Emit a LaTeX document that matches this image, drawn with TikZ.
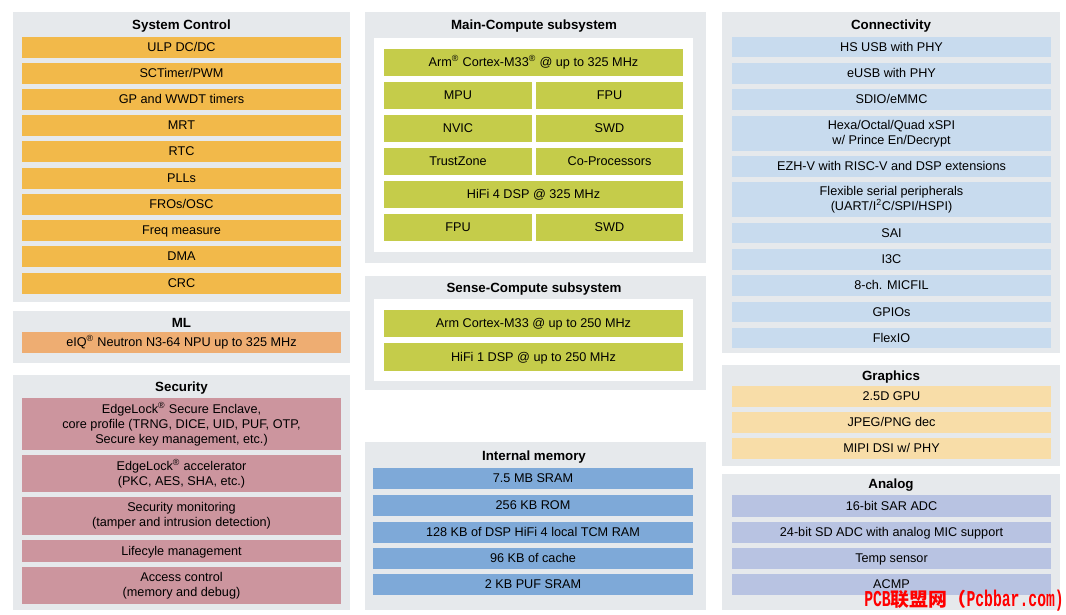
\documentclass[tikz,border=0pt]{standalone}
\usepackage{fontspec}
\setmainfont{Liberation Sans}
\newfontfamily\cjk{Noto Sans CJK SC}
\newfontfamily\wmmono{Liberation Mono}
\definecolor{panel}{HTML}{E6E9EC}
\definecolor{sysc}{HTML}{F2B94A}
\definecolor{mlc}{HTML}{EEAD72}
\definecolor{secc}{HTML}{CC959E}
\definecolor{grn}{HTML}{C5CC4A}
\definecolor{memc}{HTML}{7EA9D8}
\definecolor{conc}{HTML}{C8DBEE}
\definecolor{grc}{HTML}{F8DDA8}
\definecolor{anc}{HTML}{B8C3E2}
\newcommand\bstrut{\rule[-2.2pt]{0pt}{10.4pt}}
\newcommand\tstrut{\rule[-2.4pt]{0pt}{11.6pt}}
\newcommand\wmlat[1]{\scalebox{0.65}[1]{\wmmono\bfseries\fontsize{17}{17}\selectfont #1}}
\newcommand\mkbox[7]{\node[#2, minimum width={(#5-#3)*0.75pt}, minimum height={(#6-#4)*0.75pt}] (#1) at ({(#3+#5)/2},{(#4+#6)/2}) {#7};}
\tikzset{
  base/.style={inner sep=0pt, outer sep=0pt, draw=none, align=center, font=\fontsize{9.5}{11.25}\selectfont, text=black,
    execute at begin node=\bstrut, execute at end node=\bstrut},
  pan/.style={base, fill=panel},
  inner/.style={base, fill=white},
  ttl/.style={inner sep=0pt, font=\fontsize{10}{12}\selectfont\bfseries, text=black,
    execute at begin node=\tstrut},
  sysbox/.style={base, fill=sysc},
  mlbox/.style={base, fill=mlc},
  secbox/.style={base, fill=secc},
  cpubox/.style={base, fill=grn},
  membox/.style={base, fill=memc},
  conbox/.style={base, fill=conc},
  grbox/.style={base, fill=grc},
  anbox/.style={base, fill=anc},
  wm/.style={inner sep=0pt, text=red, font=\cjk\bfseries\fontsize{14.2}{15}\selectfont}
}
\begin{document}
\begin{tikzpicture}[x=0.75pt,y=-0.75pt]
\useasboundingbox[fill=white] (0,0) rectangle (1066,614);
% panels
\mkbox{sysP}{pan}{13}{12}{350}{302}{}
\mkbox{mlP}{pan}{13}{311}{350}{363}{}
\mkbox{secP}{pan}{13}{375}{350}{610}{}
\mkbox{mainP}{pan}{365}{12}{706}{263}{}
\mkbox{mainI}{inner}{374}{38}{693}{252}{}
\mkbox{senseP}{pan}{365}{276}{706}{390}{}
\mkbox{senseI}{inner}{374}{299}{693}{381}{}
\mkbox{memP}{pan}{365}{442}{706}{610}{}
\mkbox{conP}{pan}{722}{12}{1060}{353}{}
\mkbox{grP}{pan}{722}{365}{1060}{466}{}
\mkbox{anP}{pan}{722}{474}{1060}{610}{}
% titles
\node[ttl] (sysT) at (181.5,25.3) {System Control};
\node[ttl] (mlT) at (181.5,323) {ML};
\node[ttl] (secT) at (181.5,387) {Security};
\node[ttl] (mainT) at (534,25.3) {Main-Compute subsystem};
\node[ttl] (senseT) at (534,287.5) {Sense-Compute subsystem};
\node[ttl] (memT) at (534,455.5) {Internal memory};
\node[ttl] (conT) at (891,25.3) {Connectivity};
\node[ttl] (grT) at (891,376) {Graphics};
\node[ttl] (anT) at (891,484) {Analog};
% system control
\mkbox{s1}{sysbox}{22}{37}{341}{58}{ULP DC/DC}
\mkbox{s2}{sysbox}{22}{63}{341}{84}{SCTimer/PWM}
\mkbox{s3}{sysbox}{22}{89}{341}{110}{GP and WWDT timers}
\mkbox{s4}{sysbox}{22}{115}{341}{136}{MRT}
\mkbox{s5}{sysbox}{22}{141}{341}{162}{RTC}
\mkbox{s6}{sysbox}{22}{168}{341}{189}{PLLs}
\mkbox{s7}{sysbox}{22}{194}{341}{215}{FROs/OSC}
\mkbox{s8}{sysbox}{22}{220}{341}{241}{Freq measure}
\mkbox{s9}{sysbox}{22}{246}{341}{267}{DMA}
\mkbox{s10}{sysbox}{22}{273}{341}{294}{CRC}
% ML
\mkbox{ml1}{mlbox}{22}{332}{341}{353}{eIQ\textsuperscript{®} Neutron N3-64 NPU up to 325 MHz}
% security
\mkbox{se1}{secbox}{22}{398}{341}{450}{EdgeLock\textsuperscript{®} Secure Enclave,\\core profile (TRNG, DICE, UID, PUF, OTP,\\Secure key management, etc.)}
\mkbox{se2}{secbox}{22}{455}{341}{492}{EdgeLock\textsuperscript{®} accelerator\\(PKC, AES, SHA, etc.)}
\mkbox{se3}{secbox}{22}{497}{341}{535}{Security monitoring\\(tamper and intrusion detection)}
\mkbox{se4}{secbox}{22}{540}{341}{562}{Lifecyle management}
\mkbox{se5}{secbox}{22}{567}{341}{604}{Access control\\(memory and debug)}
% main compute
\mkbox{m1}{cpubox}{384}{49}{683}{76}{Arm\textsuperscript{®} Cortex-M33\textsuperscript{®} @ up to 325 MHz}
\mkbox{m2}{cpubox}{384}{82}{532}{109}{MPU}
\mkbox{m3}{cpubox}{536}{82}{683}{109}{FPU}
\mkbox{m4}{cpubox}{384}{115}{532}{142}{NVIC}
\mkbox{m5}{cpubox}{536}{115}{683}{142}{SWD}
\mkbox{m6}{cpubox}{384}{148}{532}{175}{TrustZone}
\mkbox{m7}{cpubox}{536}{148}{683}{175}{Co-Processors}
\mkbox{m8}{cpubox}{384}{181}{683}{208}{HiFi 4 DSP @ 325 MHz}
\mkbox{m9}{cpubox}{384}{214}{532}{241}{FPU}
\mkbox{m10}{cpubox}{536}{214}{683}{241}{SWD}
% sense compute
\mkbox{sc1}{cpubox}{384}{310}{683}{337}{Arm Cortex-M33 @ up to 250 MHz}
\mkbox{sc2}{cpubox}{384}{343}{683}{371}{HiFi 1 DSP @ up to 250 MHz}
% memory
\mkbox{me1}{membox}{373}{468}{693}{489}{7.5 MB SRAM}
\mkbox{me2}{membox}{373}{495}{693}{516}{256 KB ROM}
\mkbox{me3}{membox}{373}{522}{693}{543}{128 KB of DSP HiFi 4 local TCM RAM}
\mkbox{me4}{membox}{373}{548}{693}{569}{96 KB of cache}
\mkbox{me5}{membox}{373}{574}{693}{595}{2 KB PUF SRAM}
% connectivity
\mkbox{c1}{conbox}{732}{37}{1051}{57}{HS USB with PHY}
\mkbox{c2}{conbox}{732}{63}{1051}{84}{eUSB with PHY}
\mkbox{c3}{conbox}{732}{89}{1051}{110}{SDIO/eMMC}
\mkbox{c4}{conbox}{732}{116}{1051}{151}{Hexa/Octal/Quad xSPI\\w/ Prince En/Decrypt}
\mkbox{c5}{conbox}{732}{156}{1051}{177}{EZH-V with RISC-V and DSP extensions}
\mkbox{c6}{conbox}{732}{182}{1051}{217}{Flexible serial peripherals\\(UART/I\textsuperscript{2}C/SPI/HSPI)}
\mkbox{c7}{conbox}{732}{223}{1051}{243}{SAI}
\mkbox{c8}{conbox}{732}{249}{1051}{270}{I3C}
\mkbox{c9}{conbox}{732}{275}{1051}{296}{8-ch. MICFIL}
\mkbox{c10}{conbox}{732}{302}{1051}{322}{GPIOs}
\mkbox{c11}{conbox}{732}{328}{1051}{348}{FlexIO}
% graphics
\mkbox{g1}{grbox}{732}{386}{1051}{407}{2.5D GPU}
\mkbox{g2}{grbox}{732}{412}{1051}{433}{JPEG/PNG dec}
\mkbox{g3}{grbox}{732}{438}{1051}{459}{MIPI DSI w/ PHY}
% analog
\mkbox{a1}{anbox}{732}{495}{1051}{517}{16-bit SAR ADC}
\mkbox{a2}{anbox}{732}{522}{1051}{543}{24-bit SD ADC with analog MIC support}
\mkbox{a3}{anbox}{732}{548}{1051}{569}{Temp sensor}
\mkbox{a4}{anbox}{732}{574}{1051}{595}{ACMP}
% watermark
\node[wm, anchor=base west] (wmark) at (864,606) {\wmlat{PCB}联盟网（\wmlat{Pcbbar.com)}};
\end{tikzpicture}
\end{document}
